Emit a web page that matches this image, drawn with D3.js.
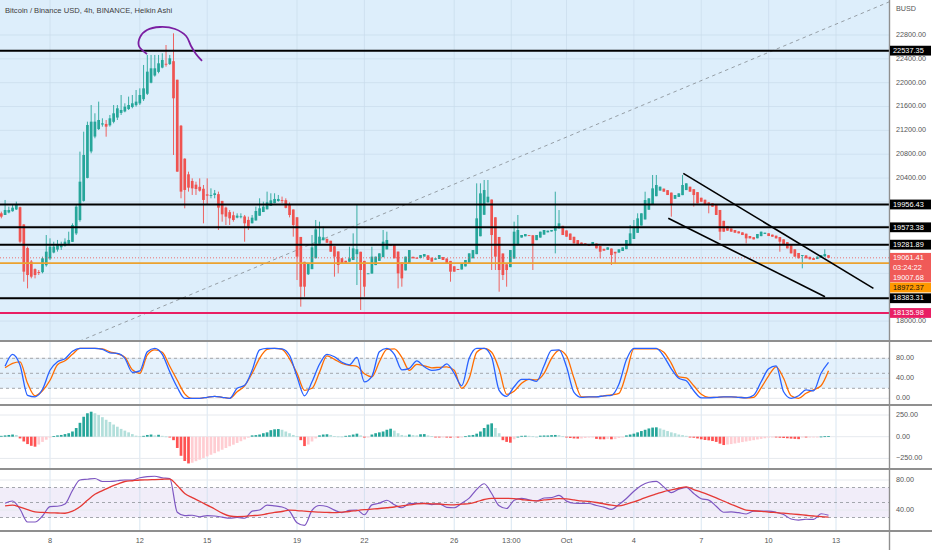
<!DOCTYPE html>
<html><head><meta charset="utf-8">
<script src="https://cdn.jsdelivr.net/npm/d3@7"></script>
<style>body{margin:0;background:#fff}svg{display:block;font-family:"Liberation Sans",Arial,sans-serif}</style>
</head><body><svg id="c" width="932" height="550"></svg>
<script>
// ---------- DATA ----------
const title = "Bitcoin / Binance USD, 4h, BINANCE, Heikin Ashi";
const firstBar = Date.UTC(2022, 8, 5, 20);   // Sep 5 2022 20:00, 4h bars
const barHours = 4;
const firstOpen = 19808;
const haClose = [
19752,19864,19864,19903,19948,19332,18829,18773,18745,18773,
18818,19053,19165,19249,19249,19277,19288,19332,19361,19612,
19920,20339,20787,21290,21346,21346,21374,21318,21262,21402,
21486,21570,21542,21598,21625,21654,21682,21793,21905,22185,
22241,22241,22325,22381,22308,22409,21738,20507,20172,20200,
20239,20227,20216,20188,20032,20104,20116,20144,19903,19791,
19752,19724,19696,19769,19758,19640,19584,19735,19847,19892,
19920,19993,20026,20049,20049,20026,19900,19780,19612,19081,
18577,18577,18957,19237,19539,19416,19405,19315,19164,19081,
18941,18969,18980,19053,19220,19204,18857,18577,18801,19081,
19081,19136,19332,19360,19276,19053,18801,18717,19081,19192,
19053,19047,19108,19125,19025,18997,19053,19108,19025,18969,
18829,18829,18857,18969,19025,19136,19192,19724,20143,20199,
20087,19444,19081,18857,18773,18857,19192,19500,19528,19444,
19461,19438,19276,19444,19500,19528,19517,19528,19595,19640,
19444,19416,19360,19304,19276,19293,19276,19260,19327,19220,
19164,19181,19237,19108,19136,19204,19237,19360,19472,19584,
19724,19808,20031,20059,20227,20283,20255,20171,20115,19947,
20115,20143,20283,20311,20171,20115,19975,20003,19947,19964,
19919,19780,19500,19500,19517,19500,19483,19472,19444,19388,
19388,19371,19461,19500,19483,19427,19416,19388,19332,19276,
19220,19136,19081,19053,19108,19053,19036,19025,19081,19108,
19125,19061];
const haHigh = [
19836,20032,19920,19948,20004,19920,19624,19249,19025,18885,
18857,19081,19444,19388,19332,19361,19332,19388,19500,19640,
19948,20843,21178,21346,21625,21486,21682,21402,21374,21458,
21625,21625,21793,21654,21766,21793,21877,21905,22297,22465,
22465,22465,22465,22493,22632,22465,22828,22045,21290,20731,
20507,20395,20339,20395,20283,20395,20227,20200,20172,20004,
19920,19864,19836,19808,19808,19780,19752,19780,19920,20060,
20004,20172,20144,20144,20116,20088,20060,19990,19863,19724,
null,null,null,19444,19696,19668,19584,null,null,null,
null,null,null,19248,19472,19958,null,null,null,19248,
null,null,19528,19500,null,null,null,null,null,null,
null,null,null,null,null,null,null,null,null,null,
null,null,null,null,null,null,null,20311,20311,20367,
20367,null,null,null,null,null,null,19668,19780,null,
null,null,null,null,null,null,null,null,20171,19863,
null,null,null,null,null,null,null,null,null,null,
null,null,null,null,null,null,null,null,19612,19696,
19808,null,20171,null,20451,20451,null,null,null,null,
null,null,20451,null,null,null,null,null,null,null,
null,null,null,null,null,null,null,null,null,null,
null,null,null,null,null,null,null,null,null,null,
null,null,null,null,null,null,null,null,null,null,
19204,null];
const haLow = [
19724,19780,19808,19836,19864,19305,18661,18549,18717,18717,
18773,18801,18913,19025,19137,19165,19193,19249,19277,19332,
19444,19668,20004,20395,20815,21067,21206,21262,21094,21262,
21318,21374,21458,21503,21542,21570,21598,21625,21693,21793,
21989,22101,22157,22241,22269,22297,20787,20507,20060,19892,
20172,20116,20116,20172,19640,19948,20060,20060,19528,19668,
19612,19612,19668,19724,19724,19332,19528,19640,19696,19808,
19836,19892,19948,19976,20004,19976,19892,19740,19416,18689,
18242,18409,18773,19025,null,null,null,null,null,18745,
18801,null,null,null,null,18605,18186,18409,null,null,
null,null,null,null,null,null,18549,18577,null,null,
null,null,null,null,null,null,null,null,null,null,
18661,null,null,null,null,null,null,null,null,null,
null,18857,18857,18493,18689,18577,null,null,null,null,
null,null,18857,null,null,null,null,null,19136,null,
null,null,null,null,null,null,null,null,null,null,
19053,null,null,18941,18957,null,null,null,null,null,
null,null,null,null,null,null,null,null,null,19752,
null,null,null,null,null,19920,null,null,null,19808,
null,null,19360,null,null,null,null,null,null,19304,
null,null,null,null,null,null,null,null,19164,null,
null,null,null,null,18885,null,null,null,null,null,
null,null];

// indicator lines, sampled at bars 1,3,5,...,221
const stochK = [
64,88,66,6,3,18,56,73,79,94,100,100,100,98,91,90,80,52,55,93,
100,88,53,22,0,0,0,2,4,2,0,20,26,56,97,100,100,99,86,43,
5,33,68,88,83,72,67,82,33,44,93,100,88,57,60,75,63,56,58,69,
50,25,80,100,100,82,16,4,23,38,38,34,65,96,97,63,12,2,3,3,
5,6,28,77,100,100,100,100,84,59,40,35,15,1,1,2,3,3,2,1,
6,33,59,65,13,0,5,17,15,50,72];
const stochD = [
61,70,73,30,5,15,36,67,75,88,100,100,100,99,93,89,82,57,50,87,
97,92,64,36,9,0,0,2,4,2,0,13,25,50,80,98,100,98,79,50,
16,20,52,85,78,70,66,64,49,43,73,98,99,82,56,68,65,61,62,63,
56,20,40,92,100,92,58,8,14,30,38,37,50,80,96,85,40,3,3,3,
5,7,10,50,99,99,99,99,92,70,43,41,25,8,2,2,3,3,2,1,
2,21,45,63,40,5,0,10,17,25,55];
const rsi = [
49,52,41,24,24,32,44.5,45,48,66,80,81,82,78,78,79,80,80,83,84.6,
85,83,82,37,32.5,33,31,32.5,32,30.5,29,30,29,38.5,40,46.5,45.5,44,38.5,23,
19.5,39.5,46,44.7,39.8,36.6,39.5,40,33.7,46.8,49,53,47,43,48.4,48.9,48.9,47.3,48.3,43.5,
43,49,55.8,67.5,75,62,45.6,42,53,55.6,53.5,52,56,56.4,59.5,51.8,49,48.9,48.7,46,
43.8,40.8,47.3,55.4,65,72.7,77,78.2,70.6,63.3,67.8,70.3,62,55,53.2,45,37,37.4,36.4,34.7,
38.4,38.6,38.6,37,33.9,28,26.5,27.7,27.4,35,33];
const rsiMA = [
45.4,46.5,43.7,40.5,37.6,36.8,36.2,36,35.7,38.5,44.3,53,60.9,65.8,70.5,74.5,78,79,80,80.3,
80.6,81,81.3,72.6,62,56.5,51.7,46.5,41.4,35.8,32,31.3,31.5,32.4,33.2,35,36.7,38,39.8,39.3,
38.5,37.7,37.2,36.8,36.4,37.2,38,39.3,40.4,41.2,42,43,44,45.5,46.7,48.1,48.7,48.3,48,47.2,
46.9,47.8,48.6,51,54,55.6,55.6,55.6,55.2,54,52.8,52.2,53.4,54.3,55.3,54.8,53.5,52.1,51.4,50,
48.2,46.6,45.5,47.9,50.7,54.5,58.3,61.5,64.6,66.8,69,70.8,67.3,63.9,60.2,56.2,51.9,47.6,43.4,39.9,
39,38.3,37.2,36.5,35.8,34.9,34,33,32,31.1,30.5];
// MACD histogram, one value per bar
const macdHist = [
10,15,20,25,20,
-20,-55,-85,-105,-115,-90,-60,-35,-10,
8,15,20,30,40,60,100,160,230,270,288,270,250,225,195,170,140,115,90,70,50,30,12,
5,10,20,25,15,22,10,3,
-5,-40,-130,-220,-280,-308,
-300,-282,-264,-245,-227,-208,-190,-170,-150,-130,-110,-92,-72,-52,-32,-12,
15,18,25,40,50,75,85,88,80,60,40,20,5,
-40,-108,-90,-55,-20,
15,25,28,20,8,
3,2,10,15,25,35,15,
-10,-3,
25,40,50,60,80,92,70,40,20,
12,25,18,15,28,30,15,8,
-5,-8,-5,-10,-12,-10,-10,-5,
5,15,20,35,60,100,140,154,100,40,
-40,-60,-69,-30,
0,10,12,10,5,
0,12,14,14,18,20,18,5,
-5,-15,-20,-22,-20,-15,-10,
-8,-25,-30,-30,-25,-30,-28,-15,-5,
15,25,35,50,65,80,95,105,108,95,80,65,50,40,25,18,10,
-5,-12,-20,-30,-38,-42,-50,-60,-80,-96,-90,-85,-78,-70,-62,-55,-47,-40,-32,-25,-18,-10,-4,
-5,-12,-15,-18,-22,-25,-28,-5,-5,-4,-3,-2,2,5,8];

const priceTicks = [18000,18400,18800,19200,19600,20000,20400,20800,21200,21600,22000,22400,22800];
const stochTicks = [80,40,0];
const macdTicks = [250,0,-250];
const rsiTicks = [80,40];
const timeTickDates = ["2022-09-08T00:00Z","2022-09-12T00:00Z","2022-09-15T00:00Z","2022-09-19T00:00Z",
  "2022-09-22T00:00Z","2022-09-26T00:00Z","2022-09-28T13:00Z","2022-10-01T00:00Z","2022-10-04T00:00Z",
  "2022-10-07T00:00Z","2022-10-10T00:00Z","2022-10-13T00:00Z"];
const timeTickLabels = ["8","12","15","19","22","26","13:00","Oct","4","7","10","13"];

const blackLevels = [22537.35, 19956.43, 19573.38, 19281.89, 18383.31];
const pinkLevel = 18135.98;
const orangeLevel = 18972.37;
const lastPrice = 19061.41;
const countdown = "03:24:22";
const realPrice = 19007.68;

// drawings: [days after Sep 8 2022, price]
const diagAnchors = [[3.562, 18018], [20.56, 20702]];
const arcPts = [[4.32,22481],[3.96,22615],[4.01,22766],[4.32,22884],[4.90,22934],[5.57,22901],[6.06,22783],[6.28,22615],[6.50,22481],[6.77,22364]];
const channelUpper = [["2022-10-06T04:48Z", 20479], ["2022-10-14T16:00Z", 18549]];
const channelLower = [["2022-10-05T12:45Z", 19724], ["2022-10-12T12:15Z", 18409]];

// ---------- CHART ----------
const svg = d3.select("#c");
const AX = 889;
const P = {main:[0,341], stoch:[341,405], macd:[405,469], rsi:[469,531]};
const day0 = Date.UTC(2022,8,8);
const x = d3.scaleUtc().domain([new Date(day0), new Date(Date.UTC(2022,9,13))]).range([50,836]);
const y = d3.scaleLinear().domain([17665.8, 23387.2]).range([341, 0]);
const ys = d3.scaleLinear().domain([0,100]).range([398.3, 348.3]);
const ym = d3.scaleLinear().domain([-250,250]).range([458.4, 415]);
const yr = d3.scaleLinear().domain([40,80]).range([510, 480]);
const barDate = i => new Date(firstBar + i*barHours*3600e3);
const dayDate = d => new Date(day0 + d*864e5);
const fmt = d3.format(".2f");

const defs = svg.append("defs");
Object.entries(P).forEach(([k,[a,b]]) => {
  defs.append("clipPath").attr("id","clip-"+k).append("rect").attr("x",0).attr("y",a).attr("width",AX).attr("height",b-a);
});

// backgrounds
svg.append("rect").attr("width",932).attr("height",550).attr("fill","#fff");
svg.append("rect").attr("x",0).attr("y",0).attr("width",AX).attr("height",341).attr("fill","#ddeefb");
svg.append("rect").attr("x",0).attr("y",ys(80)).attr("width",AX).attr("height",ys(20)-ys(80)).attr("fill","#e4f1fc");
svg.append("rect").attr("x",0).attr("y",yr(70)).attr("width",AX).attr("height",yr(30)-yr(70)).attr("fill","#f1edf9");

// grids
const tickDates = timeTickDates.map(s => new Date(s));
svg.append("g").selectAll("line").data(tickDates).join("line")
  .attr("x1",d=>x(d)).attr("x2",d=>x(d)).attr("y1",0).attr("y2",531)
  .attr("stroke","#c9dceb").attr("stroke-opacity",0.7).attr("stroke-width",1);
svg.append("g").selectAll("line").data(priceTicks).join("line")
  .attr("x1",0).attr("x2",AX).attr("y1",d=>y(d)).attr("y2",d=>y(d))
  .attr("stroke","#c9dceb").attr("stroke-opacity",0.7);
const hgrid = (vals, sc) => svg.append("g").selectAll("line").data(vals).join("line")
  .attr("x1",0).attr("x2",AX).attr("y1",d=>sc(d)).attr("y2",d=>sc(d)).attr("stroke","#e6e9ee");
hgrid(stochTicks, ys); hgrid(macdTicks, ym); hgrid(rsiTicks, yr);
const dashes = (vals, sc) => svg.append("g").selectAll("line").data(vals).join("line")
  .attr("x1",0).attr("x2",AX).attr("y1",d=>sc(d)).attr("y2",d=>sc(d))
  .attr("stroke","#9a9ea4").attr("stroke-dasharray","3,3").attr("stroke-width",0.9);
dashes([80,50,20], ys); dashes([70,50,30], yr);

// ---------- main pane ----------
const gm = svg.append("g").attr("clip-path","url(#clip-main)");
const [A,B] = diagAnchors;
const slope = (B[1]-A[1])/(B[0]-A[0]);
const diagEnds = [-3, 40].map(d => [dayDate(d), A[1] + (d-A[0])*slope]);
gm.append("line").attr("x1",x(diagEnds[0][0])).attr("y1",y(diagEnds[0][1]))
  .attr("x2",x(diagEnds[1][0])).attr("y2",y(diagEnds[1][1]))
  .attr("stroke","#8d959c").attr("stroke-width",0.9).attr("stroke-dasharray","3.5,3.5");

// Heikin Ashi candles
const opens = [];
haClose.forEach((c,i) => opens.push(i===0 ? firstOpen : (opens[i-1]+haClose[i-1])/2));
const bars = haClose.map((c,i) => {
  const o = opens[i];
  const hi = Math.max(o, c, haHigh[i] ?? -Infinity);
  const lo = Math.min(o, c, haLow[i] ?? Infinity);
  return {d: barDate(i), o, c, hi, lo, up: c >= o};
});
const up = "#26a69a", dn = "#ef5350";
gm.append("g").selectAll("line").data(bars).join("line")
  .attr("x1",d=>x(d.d)).attr("x2",d=>x(d.d)).attr("y1",d=>y(d.hi)).attr("y2",d=>y(d.lo))
  .attr("stroke",d=>d.up?up:dn).attr("stroke-width",0.9);
gm.append("g").selectAll("rect").data(bars).join("rect")
  .attr("x",d=>x(d.d)-1.35).attr("width",2.7)
  .attr("y",d=>y(Math.max(d.o,d.c)))
  .attr("height",d=>Math.max(0.9, Math.abs(y(d.o)-y(d.c))))
  .attr("fill",d=>d.up?up:dn);

// horizontal levels
gm.append("line").attr("x1",0).attr("x2",AX).attr("y1",y(lastPrice)).attr("y2",y(lastPrice))
  .attr("stroke","#ef5350").attr("stroke-dasharray","1,2").attr("stroke-opacity",0.8);
gm.append("g").selectAll("line").data(blackLevels).join("line")
  .attr("x1",0).attr("x2",AX).attr("y1",d=>y(d)).attr("y2",d=>y(d))
  .attr("stroke","#000").attr("stroke-width",2);
gm.append("line").attr("x1",0).attr("x2",AX).attr("y1",y(orangeLevel)).attr("y2",y(orangeLevel))
  .attr("stroke","#eba22f").attr("stroke-width",1.8);
gm.append("line").attr("x1",0).attr("x2",AX).attr("y1",y(pinkLevel)).attr("y2",y(pinkLevel))
  .attr("stroke","#e91e63").attr("stroke-width",2);

// channel
[channelUpper, channelLower].forEach(seg => {
  gm.append("line").attr("x1",x(new Date(seg[0][0]))).attr("y1",y(seg[0][1]))
    .attr("x2",x(new Date(seg[1][0]))).attr("y2",y(seg[1][1]))
    .attr("stroke","#000").attr("stroke-width",1.6);
});
// purple arc
gm.append("path").datum(arcPts)
  .attr("d", d3.line().x(p=>x(dayDate(p[0]))).y(p=>y(p[1])).curve(d3.curveCatmullRom))
  .attr("fill","none").attr("stroke","#7b1fa2").attr("stroke-width",1.8);

// ---------- stochastic ----------
const gs = svg.append("g").attr("clip-path","url(#clip-stoch)");
const lineIdx = (sc) => d3.line().x((v,k)=>x(barDate(2*k+1))).y(v=>sc(v)).curve(d3.curveMonotoneX);
gs.append("path").datum(stochD).attr("d",lineIdx(ys)).attr("fill","none").attr("stroke","#ff6d00").attr("stroke-width",1.3);
gs.append("path").datum(stochK).attr("d",lineIdx(ys)).attr("fill","none").attr("stroke","#2962ff").attr("stroke-width",1.3);

// ---------- MACD histogram ----------
const gh = svg.append("g").attr("clip-path","url(#clip-macd)");
gh.append("g").selectAll("rect").data(macdHist).join("rect")
  .attr("x",(v,i)=>x(barDate(i))-1.35).attr("width",2.7)
  .attr("y",v=>Math.min(ym(v),ym(0))).attr("height",v=>Math.max(0.8,Math.abs(ym(v)-ym(0))))
  .attr("fill",(v,i)=>{
    const p = i>0 ? macdHist[i-1] : v;
    if (v >= 0) return v >= p ? "#26a69a" : "#b2dfdb";
    return v <= p ? "#ff5252" : "#ffcdd2";
  });

// ---------- RSI ----------
const gr = svg.append("g").attr("clip-path","url(#clip-rsi)");
gr.append("path").datum(rsi).attr("d",lineIdx(yr)).attr("fill","none").attr("stroke","#7e57c2").attr("stroke-width",1.2);
gr.append("path").datum(rsiMA).attr("d",lineIdx(yr)).attr("fill","none").attr("stroke","#e53935").attr("stroke-width",1.3);

// ---------- frame ----------
[341,405,469,531].forEach(v => svg.append("line").attr("x1",0).attr("x2",932).attr("y1",v).attr("y2",v)
  .attr("stroke","#8f8f8f").attr("stroke-width",1.8));
svg.append("line").attr("x1",AX+0.5).attr("x2",AX+0.5).attr("y1",0).attr("y2",550)
  .attr("stroke","#8f8f8f").attr("stroke-width",1.4);

// ---------- text ----------
const T = (xx, yy, s, opt={}) => svg.append("text").attr("x",xx).attr("y",yy).text(s)
  .attr("font-size",opt.size||7.2).attr("fill",opt.fill||"#555")
  .attr("text-anchor",opt.anchor||"start").attr("dominant-baseline","middle");
T(5, 11, title, {size:7.6, fill:"#3d3d3d"});
T(896, 9, "BUSD");

// price tags with collision push-down (layout first)
const tags = [
  ...blackLevels.map(p => ({p, rows:[fmt(p)], bg:"#000"})),
  {p:lastPrice, rows:[fmt(lastPrice), countdown, fmt(realPrice)], bg:"#f05a58"},
  {p:orangeLevel, rows:[fmt(orangeLevel)], bg:"#ff9800", fg:"#111"},
  {p:pinkLevel, rows:[fmt(pinkLevel)], bg:"#e91e63"}
].sort((a,b)=>y(a.p)-y(b.p));
let bottom = -Infinity;
const rowH = 9.8;
tags.forEach(t => {
  t.top = Math.max(y(t.p) - rowH/2, bottom + 0.3);
  t.h = rowH * t.rows.length;
  bottom = t.top + t.h;
});
// axis labels hidden where a tag covers them (as the price scale does)
const covered = yy => tags.some(t => yy > t.top - 2.5 && yy < t.top + t.h + 2.5);
priceTicks.filter(p => !covered(y(p))).forEach(p => T(896, y(p), fmt(p)));
stochTicks.forEach(v => T(896, ys(v), fmt(v)));
macdTicks.forEach(v => T(896, ym(v), fmt(v)));
rsiTicks.forEach(v => T(896, yr(v), fmt(v)));
tickDates.forEach((d,i) => T(x(d), 541, timeTickLabels[i], {anchor:"middle", size:7.4}));

tags.forEach(t => {
  svg.append("rect").attr("x",AX+1).attr("y",t.top).attr("width",41).attr("height",t.h).attr("fill",t.bg);
  t.rows.forEach((r,k) => T(AX+4, t.top + rowH*(k+0.5)+0.3, r, {fill:t.fg||"#fff", size:7.4}));
});
</script></body></html>
